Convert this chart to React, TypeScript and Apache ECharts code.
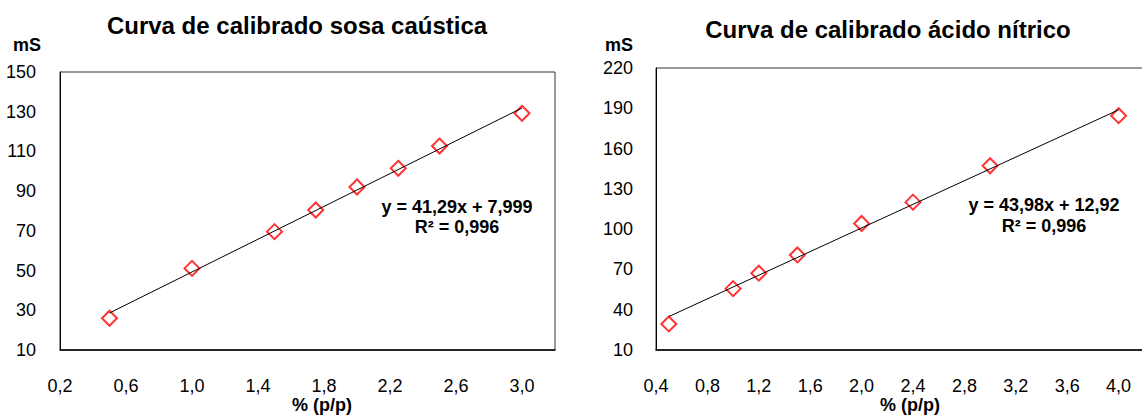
import React, { useEffect, useRef } from "react";
import * as echarts from "echarts";

// ---- data ----
const sosaX = [0.5, 1.0, 1.5, 1.75, 2.0, 2.25, 2.5, 3.0];
const sosaY = [26.0, 51.1, 69.6, 80.5, 92.1, 101.5, 112.7, 129.2];
const sosaFit = [41.29, 7.999]; // slope, intercept
const sosaXTicks = [0.2, 0.6, 1.0, 1.4, 1.8, 2.2, 2.6, 3.0];
const sosaYTicks = [10, 30, 50, 70, 90, 110, 130, 150];

const nitricoX = [0.5, 1.0, 1.2, 1.5, 2.0, 2.4, 3.0, 4.0];
const nitricoY = [29.4, 55.7, 67.2, 80.8, 104.2, 120.1, 147.2, 184.5];
const nitricoFit = [43.98, 12.92];
const nitricoXTicks = [0.4, 0.8, 1.2, 1.6, 2.0, 2.4, 2.8, 3.2, 3.6, 4.0];
const nitricoYTicks = [10, 40, 70, 100, 130, 160, 190, 220];

const titles = ["Curva de calibrado sosa caústica", "Curva de calibrado ácido nítrico"];
const equations = ["y = 41,29x + 7,999", "y = 43,98x + 12,92"];
const r2Labels = ["R² = 0,996", "R² = 0,996"];
const xName = "% (p/p)";
const yName = "mS";

const FONT = '"Liberation Sans", Arial, sans-serif';

function trend(xs: number[], fit: number[]) {
  const x0 = Math.min(...xs);
  const x1 = Math.max(...xs);
  return [
    [x0, fit[0] * x0 + fit[1]],
    [x1, fit[0] * x1 + fit[1]],
  ];
}

const fmt1 = (v: number) => v.toFixed(1).replace(".", ",");
const fmt0 = (v: number) => String(Math.round(v));

export default function App() {
  const ref = useRef<HTMLDivElement>(null);
  useEffect(() => {
    if (!ref.current) return;
    const chart = echarts.init(ref.current, undefined, { renderer: "svg" });
    const xAxisBase = (idx: number, min: number, max: number, ticks: number[]) => ({
      type: "value",
      gridIndex: idx,
      min,
      max,
      axisLine: { show: true, lineStyle: { color: "#000", width: 1.5 } },
      axisTick: { show: false },
      splitLine: { show: false },
      axisLabel: {
        customValues: ticks,
        formatter: fmt1,
        color: "#000",
        fontSize: 18,
        fontFamily: FONT,
        margin: 27,
      },
    });
    const yAxisBase = (idx: number, min: number, max: number, ticks: number[], margin: number) => ({
      type: "value",
      gridIndex: idx,
      min,
      max,
      axisLine: { show: true, lineStyle: { color: "#000", width: 1 } },
      axisTick: { show: false },
      splitLine: { show: false },
      axisLabel: {
        customValues: ticks,
        formatter: fmt0,
        color: "#000",
        fontSize: 18,
        fontFamily: FONT,
        margin,
      },
    });
    const scatterStyle = {
      symbol: "diamond",
      symbolSize: 15,
      itemStyle: { color: "rgba(255,255,255,0)", borderColor: "#ff0000", borderWidth: 2 },
    };
    const textEl = (x: number, y: number, text: string, size: number, bold = true) => ({
      type: "text",
      x,
      y,
      style: {
        text,
        fill: "#000",
        font: `${bold ? "bold " : ""}${size}px ${FONT}`,
        align: "center",
        verticalAlign: "middle",
      },
    });
    chart.setOption({
      animation: false,
      backgroundColor: "#fff",
      grid: [
        { left: 60, top: 72, width: 495, height: 278, show: true, borderColor: "#333", borderWidth: 1 },
        { left: 656, top: 68, width: 514, height: 282, show: true, borderColor: "#333", borderWidth: 1 },
      ],
      xAxis: [xAxisBase(0, 0.2, 3.2, sosaXTicks), xAxisBase(1, 0.4, 4.4, nitricoXTicks)],
      yAxis: [yAxisBase(0, 10, 150, sosaYTicks, 24), yAxisBase(1, 10, 220, nitricoYTicks, 23)],
      series: [
        {
          type: "line",
          xAxisIndex: 0,
          yAxisIndex: 0,
          data: trend(sosaX, sosaFit),
          showSymbol: false,
          lineStyle: { color: "#000", width: 1 },
          z: 3,
        },
        {
          type: "scatter",
          xAxisIndex: 0,
          yAxisIndex: 0,
          data: sosaX.map((x, i) => [x, sosaY[i]]),
          ...scatterStyle,
          z: 2,
        },
        {
          type: "line",
          xAxisIndex: 1,
          yAxisIndex: 1,
          data: trend(nitricoX, nitricoFit),
          showSymbol: false,
          lineStyle: { color: "#000", width: 1 },
          z: 3,
        },
        {
          type: "scatter",
          xAxisIndex: 1,
          yAxisIndex: 1,
          data: nitricoX.map((x, i) => [x, nitricoY[i]]),
          ...scatterStyle,
          z: 2,
        },
      ],
      graphic: [
        textEl(297, 25, titles[0], 24),
        textEl(888, 29, titles[1], 24),
        textEl(27, 45, yName, 18),
        textEl(619, 45, yName, 18),
        textEl(322, 405, xName, 18),
        textEl(910, 405, xName, 18),
        textEl(457, 207, equations[0], 18),
        textEl(457, 227, r2Labels[0], 18),
        textEl(1044, 205, equations[1], 18),
        textEl(1044, 226, r2Labels[1], 18),
      ],
    });
    return () => chart.dispose();
  }, []);
  return (
    <div
      style={{
        position: "fixed",
        left: 0,
        top: 0,
        width: 1142,
        height: 416,
        overflow: "hidden",
        background: "#fff",
      }}
    >
      <div ref={ref} style={{ width: 1180, height: 416 }} />
    </div>
  );
}
